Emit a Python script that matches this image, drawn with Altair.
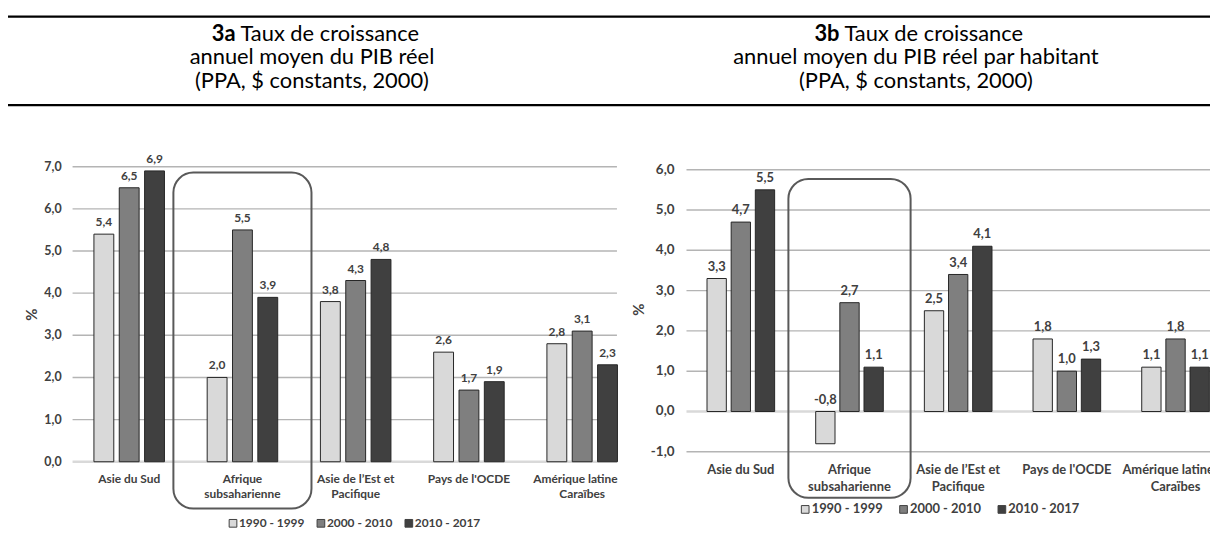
import altair as alt
import pandas as pd

# ---------------- data ----------------
categories = ["Asie du Sud", "Afrique subsaharienne", "Asie de l’Est et Pacifique",
              "Pays de l'OCDE", "Amérique latine et Caraïbes"]
category_labels = ["Asie du Sud", "Afrique\nsubsaharienne", "Asie de l’Est et\nPacifique",
                   "Pays de l'OCDE", "Amérique latine et\nCaraïbes"]
periods = ["1990 - 1999", "2000 - 2010", "2010 - 2017"]

# 3a : PIB réel
gdp_1990_1999 = [5.4, 2.0, 3.8, 2.6, 2.8]
gdp_2000_2010 = [6.5, 5.5, 4.3, 1.7, 3.1]
gdp_2010_2017 = [6.9, 3.9, 4.8, 1.9, 2.3]
# 3b : PIB réel par habitant
pc_1990_1999 = [3.3, -0.8, 2.5, 1.8, 1.1]
pc_2000_2010 = [4.7, 2.7, 3.4, 1.0, 1.8]
pc_2010_2017 = [5.5, 1.1, 4.1, 1.3, 1.1]

ticks_a = [0, 1, 2, 3, 4, 5, 6, 7]
ticks_b = [-1, 0, 1, 2, 3, 4, 5, 6]
highlight = "Afrique subsaharienne"

header_a = ["3a", "Taux de croissance", "annuel moyen du PIB réel\n(PPA, $ constants, 2000)"]
header_b = ["3b", "Taux de croissance", "annuel moyen du PIB réel par habitant\n(PPA, $ constants, 2000)"]

# ---------------- style ----------------
FONT = "Lato"
TXT = "#404040"
palette = ["#d9d9d9", "#7f7f7f", "#404040"]
W, H = 1210, 529


def fmt(field):
    return (f"(datum.{field} < 0 ? '-' : '') + "
            f"replace(format(abs(datum.{field}), '.1f'), '.', ',')")


def long_df(series):
    rows = []
    for p, vals in zip(periods, series):
        for c, v in zip(categories, vals):
            rows.append({"cat": c, "period": p, "v": v})
    return pd.DataFrame(rows)


def panel(series, ticks, g):
    xs = alt.Scale(domain=categories, range=g["xrange"], paddingInner=0, paddingOuter=0)
    ys = alt.Scale(domain=g["ydomain"], range=g["yrange"], nice=False, zero=False)
    xo = alt.Scale(domain=periods, paddingInner=g["pin"], paddingOuter=g["pout"])
    cs = alt.Scale(domain=periods, range=palette)
    X = alt.X("cat:N", scale=xs, axis=None, sort=categories)
    XO = alt.XOffset("period:N", scale=xo, sort=periods)

    tick_df = pd.DataFrame({"t": ticks})
    grid = alt.Chart(tick_df).mark_rule().encode(
        y=alt.Y("t:Q", scale=ys, axis=None),
        x=alt.value(g["gx"][0]), x2=alt.value(g["gx"][1]),
        color=alt.condition("datum.t == 0", alt.value("#d9d9d9"), alt.value("#b4b4b4")),
        strokeWidth=alt.condition("datum.t == 0", alt.value(2.5), alt.value(1.4)),
    )
    tick_labels = alt.Chart(tick_df).transform_calculate(lbl=fmt("t")).mark_text(
        align="right", baseline="middle", font=FONT, fontWeight="bold",
        fontSize=g["fs"] + 0.5, color=TXT,
    ).encode(y=alt.Y("t:Q", scale=ys, axis=None), x=alt.value(g["tickx"]), text="lbl:N")

    pct = alt.Chart(pd.DataFrame({"k": [0]})).mark_text(
        text="%", angle=270, font=FONT, fontWeight="bold", fontSize=15, color=TXT,
        align="center", baseline="middle",
    ).encode(x=alt.value(g["pct"][0]), y=alt.value(g["pct"][1]))

    df = long_df(series)
    bars = alt.Chart(df).mark_bar(stroke="#262626", strokeWidth=1).encode(
        x=X, xOffset=XO,
        y=alt.Y("v:Q", scale=ys, axis=None),
        fill=alt.Fill("period:N", scale=cs, legend=None),
    )
    values = alt.Chart(df).transform_calculate(
        lbl=fmt("v"), ly="max(datum.v, 0)"
    ).mark_text(
        baseline="middle", dy=-12, font=FONT, fontWeight="bold", fontSize=g["fs"], color=TXT,
    ).encode(x=X, xOffset=XO, y=alt.Y("ly:Q", scale=ys, axis=None), text="lbl:N")

    cat_df = pd.DataFrame({"cat": categories, "lab": category_labels})
    cats = alt.Chart(cat_df).mark_text(
        baseline="top", lineBreak="\n", lineHeight=g["lh"], font=FONT, fontWeight="bold",
        fontSize=g["fs"], color=TXT,
    ).encode(x=X, y=alt.value(g["caty"]), text="lab:N")

    box = alt.Chart(pd.DataFrame({"cat": [highlight]})).mark_bar(
        width=g["boxw"], cornerRadius=20, fill="#ffffff", fillOpacity=0,
        stroke="#595959", strokeWidth=2,
    ).encode(
        x=X,
        y=alt.Y(datum=g["box"][0], scale=ys, axis=None),
        y2=alt.Y2(datum=g["box"][1]),
    )

    leg_df = pd.DataFrame({"period": periods, "idx": list(range(len(periods)))})
    leg_pos = f"{g['legx']} + datum.idx * {g['legstep']}"
    leg_sq = alt.Chart(leg_df).transform_calculate(lx=leg_pos).mark_square(
        size=60, stroke="#404040", strokeWidth=1, opacity=1,
    ).encode(
        x=alt.X("lx:Q", scale=None, axis=None), y=alt.value(g["legy"]),
        fill=alt.Fill("period:N", scale=cs, legend=None),
    )
    leg_tx = alt.Chart(leg_df).transform_calculate(lx=leg_pos).mark_text(
        align="left", baseline="middle", dx=g["legdx"], font=FONT, fontWeight="bold",
        fontSize=g["fs"], color=TXT,
    ).encode(x=alt.X("lx:Q", scale=None, axis=None), y=alt.value(g["legy"]), text="period:N")

    return alt.layer(grid, tick_labels, pct, bars, values, cats, box, leg_sq, leg_tx)


geo_a = dict(xrange=[65, 635], ydomain=[0, 7], yrange=[455, 158], pin=0.216, pout=0.843,
             gx=[65, 613], tickx=54, pct=[24, 307], fs=12, lh=16, caty=467,
             boxw=139, box=[6.86, -1.11], legx=226.5, legstep=88.5, legy=517, legdx=6)
geo_b = dict(xrange=[683, 1230], ydomain=[-1, 6], yrange=[445, 161], pin=0.2, pout=0.85,
             gx=[683, 1210], tickx=671, pct=[635, 302], fs=13, lh=17, caty=457,
             boxw=123, box=[5.77, -2.14], legx=802.5, legstep=99, legy=503, legdx=6.5)

left = panel([gdp_1990_1999, gdp_2000_2010, gdp_2010_2017], ticks_a, geo_a)
right = panel([pc_1990_1999, pc_2000_2010, pc_2010_2017], ticks_b, geo_b)

one = pd.DataFrame({"k": [0]})

# crop of the left picture at its right edge
mask = alt.Chart(one).mark_rect(fill="#ffffff").encode(
    x=alt.value(614), x2=alt.value(632), y=alt.value(458), y2=alt.value(500))

# header: two full-width rules and the two titles
rules = [
    alt.Chart(one).mark_rule(color="#000000", strokeWidth=2.2).encode(
        x=alt.value(0), x2=alt.value(W), y=alt.value(yy))
    for yy in (7, 96)
]


def header(lines, cx):
    hs = 22
    split = cx - 77
    parts = [
        alt.Chart(one).mark_text(text=lines[0], font=FONT, fontWeight="bold", fontSize=hs,
                                 color="#000000", align="right", baseline="middle"
                                 ).encode(x=alt.value(split), y=alt.value(24)),
        alt.Chart(one).mark_text(text=lines[1], font=FONT, fontSize=hs, color="#000000",
                                 align="left", baseline="middle"
                                 ).encode(x=alt.value(split + 5), y=alt.value(24)),
        alt.Chart(one).mark_text(text=lines[2], font=FONT, fontSize=hs, color="#000000",
                                 align="center", baseline="middle", lineBreak="\n",
                                 lineHeight=24
                                 ).encode(x=alt.value(cx), y=alt.value(48)),
    ]
    return parts


layers = [left, mask, right] + rules + header(header_a, 306) + header(header_b, 914)

chart = alt.layer(*layers).resolve_scale(
    x="independent", y="independent", xOffset="independent", fill="independent"
).properties(
    width=W, height=H, padding=0, background="#ffffff",
    autosize=alt.AutoSizeParams(type="none"),
).configure_view(strokeWidth=0)

chart.save("out.html", embed_options={"renderer": "svg", "actions": False})
